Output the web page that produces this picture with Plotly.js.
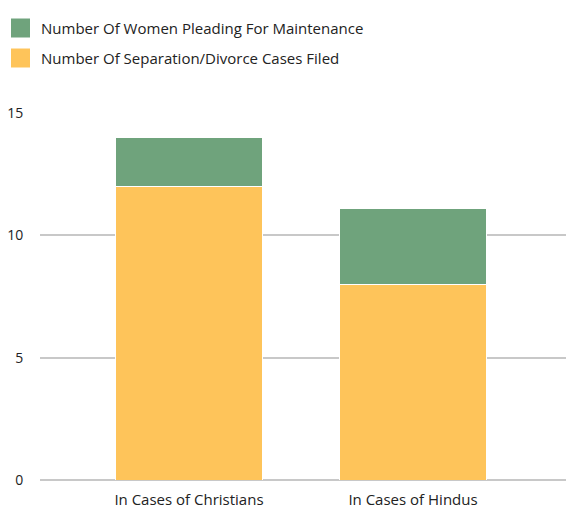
<!DOCTYPE html>
<html>
<head>
<meta charset="utf-8">
<script src="https://cdn.plot.ly/plotly-3.0.1.min.js"></script>
<style>
  html, body { margin: 0; padding: 0; background: #fff; }
  #chart { width: 566px; height: 511px; }
</style>
</head>
<body>
<div id="chart"></div>
<script>
// Stacked counts per community
const categories = ["In Cases of Christians", "In Cases of Hindus"];
const separationCases = [12, 8];
const maintenancePleas = [2, 3.1];
const seriesNames = [
  "Number Of Women Pleading For Maintenance",
  "Number Of Separation/Divorce Cases Filed"
];
const yTicks = [0, 5, 10, 15];

const GREEN = "#6fa37c";
const YELLOW = "#fec45a";
const FONT = "Open Sans, sans-serif";
const TEXT = "#222222";

const traces = [
  {
    type: "bar",
    name: seriesNames[1],
    x: categories,
    y: separationCases,
    marker: { color: YELLOW, line: { color: "#ffffff", width: 1 } },
    width: 0.66,
    hoverinfo: "x+y+name"
  },
  {
    type: "bar",
    name: seriesNames[0],
    x: categories,
    y: maintenancePleas,
    marker: { color: GREEN, line: { color: "#ffffff", width: 1 } },
    width: 0.66,
    hoverinfo: "x+y+name"
  }
];

// Custom legend: colour swatches with labels at the top left
const legendColors = [GREEN, YELLOW];
const legendY = [28, 58];
const shapes = [];
const annotations = [];
seriesNames.forEach((name, i) => {
  shapes.push({
    type: "rect", xref: "paper", yref: "paper",
    x0: (11 - 40) / 526, x1: (30 - 40) / 526,
    y0: (480 - (legendY[i] + 9.5)) / 367, y1: (480 - (legendY[i] - 9.5)) / 367,
    fillcolor: legendColors[i], line: { width: 0 }
  });
  annotations.push({
    xref: "paper", yref: "paper",
    x: (39 - 40) / 526, y: (480 - legendY[i]) / 367,
    xanchor: "left", yanchor: "middle",
    text: name, showarrow: false,
    font: { family: FONT, size: 15, color: TEXT }
  });
});

const layout = {
  width: 566,
  height: 511,
  margin: { l: 40, r: 0, t: 113, b: 31, pad: 0 },
  paper_bgcolor: "#ffffff",
  plot_bgcolor: "#ffffff",
  barmode: "stack",
  showlegend: false,
  font: { family: FONT, size: 14, color: TEXT },
  xaxis: {
    type: "category",
    range: [-0.665, 1.683],
    showgrid: false,
    zeroline: false,
    showline: false,
    ticks: "outside",
    ticklen: 6,
    tickcolor: "rgba(0,0,0,0)",
    tickfont: { family: FONT, size: 15, color: TEXT }
  },
  yaxis: {
    range: [0, 15],
    tickvals: yTicks,
    ticktext: yTicks.map(String),
    showgrid: true,
    gridcolor: "#c8c8c8",
    gridwidth: 2,
    zeroline: true,
    zerolinecolor: "#c8c8c8",
    zerolinewidth: 2,
    showline: false,
    ticks: "outside",
    ticklen: 13,
    tickcolor: "rgba(0,0,0,0)",
    tickfont: { family: FONT, size: 14, color: TEXT }
  },
  shapes: shapes,
  annotations: annotations
};

Plotly.newPlot("chart", traces, layout, { displayModeBar: false, staticPlot: true });
</script>
</body>
</html>
